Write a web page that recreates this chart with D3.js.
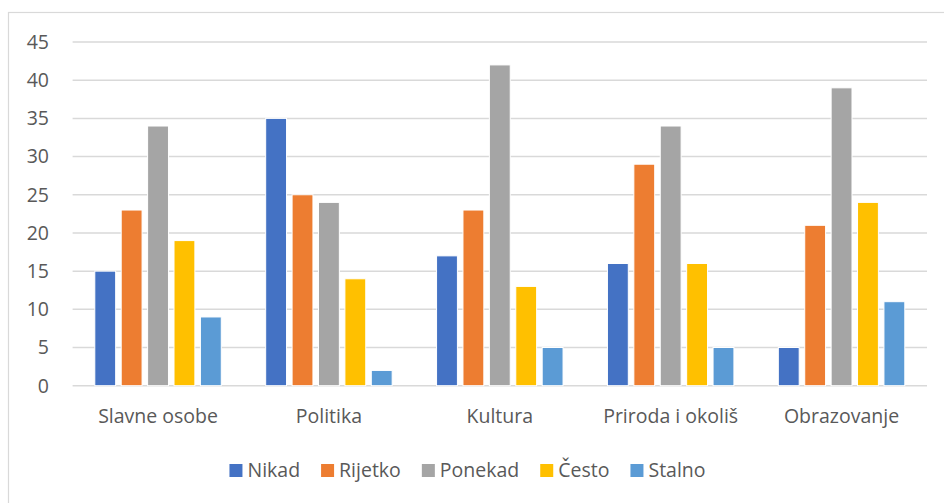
<!DOCTYPE html>
<html>
<head>
    <meta charset="utf-8">
    <script src="https://d3js.org/d3.v7.min.js"></script>
    <style>
        body { margin: 0; background: #fff; }
        text { font-family: "Open Sans", "Noto Sans", sans-serif; fill: #595959; }
        .grid line { stroke: #d9d9d9; stroke-width: 1.5px; }
        .bar { stroke: #fff; stroke-width: 1px; }
    </style>
</head>
<body>
    <div id="chart"></div>

    <script>
        // data
        let categories = ["Slavne osobe", "Politika", "Kultura", "Priroda i okoliš", "Obrazovanje"];
        let seriesNames = ["Nikad", "Rijetko", "Ponekad", "Često", "Stalno"];
        let colors = ["#4472c4", "#ed7d31", "#a5a5a5", "#ffc000", "#5b9bd5"];
        let nikad = [15, 35, 17, 16, 5];
        let rijetko = [23, 25, 23, 29, 21];
        let ponekad = [34, 24, 42, 34, 39];
        let cesto = [19, 14, 13, 16, 24];
        let stalno = [9, 2, 5, 5, 11];
        let yTicks = [0, 5, 10, 15, 20, 25, 30, 35, 40, 45];

        let values = [nikad, rijetko, ponekad, cesto, stalno];

        let width = 944, height = 503;
        let plotLeft = 72.6, plotRight = 927, plotTop = 42, plotBottom = 385.7;
        let fontSize = "19.5px";

        let svg = d3.select("#chart").append("svg")
            .attr("width", width)
            .attr("height", height);

        // outer chart border
        svg.append("rect")
            .attr("x", 8.5).attr("y", 12.5)
            .attr("width", 960).attr("height", 520)
            .attr("fill", "none")
            .attr("stroke", "#d9d9d9")
            .attr("stroke-width", 1.2);

        let y = d3.scaleLinear().domain([0, 45]).range([plotBottom, plotTop]);

        let x0 = d3.scaleBand().domain(categories).range([plotLeft, plotRight]).padding(0);
        let groupPad = 22.2;
        let x1 = d3.scaleBand().domain(seriesNames)
            .range([groupPad, x0.bandwidth() - groupPad])
            .paddingInner(0.21).paddingOuter(0);

        // gridlines
        svg.append("g").attr("class", "grid")
            .selectAll("line")
            .data(yTicks)
            .enter().append("line")
            .attr("x1", plotLeft).attr("x2", plotRight)
            .attr("y1", d => y(d)).attr("y2", d => y(d));

        // y tick labels
        svg.append("g")
            .selectAll("text")
            .data(yTicks)
            .enter().append("text")
            .attr("x", 49)
            .attr("y", d => y(d))
            .attr("dy", "0.35em")
            .attr("text-anchor", "end")
            .style("font-size", fontSize)
            .text(d => d);

        // bars
        seriesNames.forEach((s, i) => {
            svg.append("g")
                .selectAll("rect")
                .data(values[i])
                .enter().append("rect")
                .attr("class", "bar")
                .attr("x", (d, j) => x0(categories[j]) + x1(s))
                .attr("width", x1.bandwidth())
                .attr("y", d => y(d))
                .attr("height", d => y(0) - y(d))
                .attr("fill", colors[i]);
        });

        // category labels
        svg.append("g")
            .selectAll("text")
            .data(categories)
            .enter().append("text")
            .attr("x", d => x0(d) + x0.bandwidth() / 2)
            .attr("y", 423)
            .attr("text-anchor", "middle")
            .style("font-size", fontSize)
            .text(d => d);

        // legend
        let legend = svg.append("g");
        let items = legend.selectAll("g")
            .data(seriesNames)
            .enter().append("g");
        items.append("rect")
            .attr("width", 13).attr("height", 13)
            .attr("y", 464)
            .attr("fill", (d, i) => colors[i]);
        items.append("text")
            .attr("x", 18)
            .attr("y", 477)
            .style("font-size", fontSize)
            .text(d => d);

        let xPos = 0;
        let offsets = [];
        items.each(function() {
            let w = d3.select(this).select("text").node().getComputedTextLength();
            offsets.push(xPos);
            xPos += 18 + w + 21;
        });
        let total = xPos - 21;
        let start = 467.5 - total / 2;
        items.attr("transform", (d, i) => `translate(${start + offsets[i]},0)`);
    </script>
</body>
</html>
